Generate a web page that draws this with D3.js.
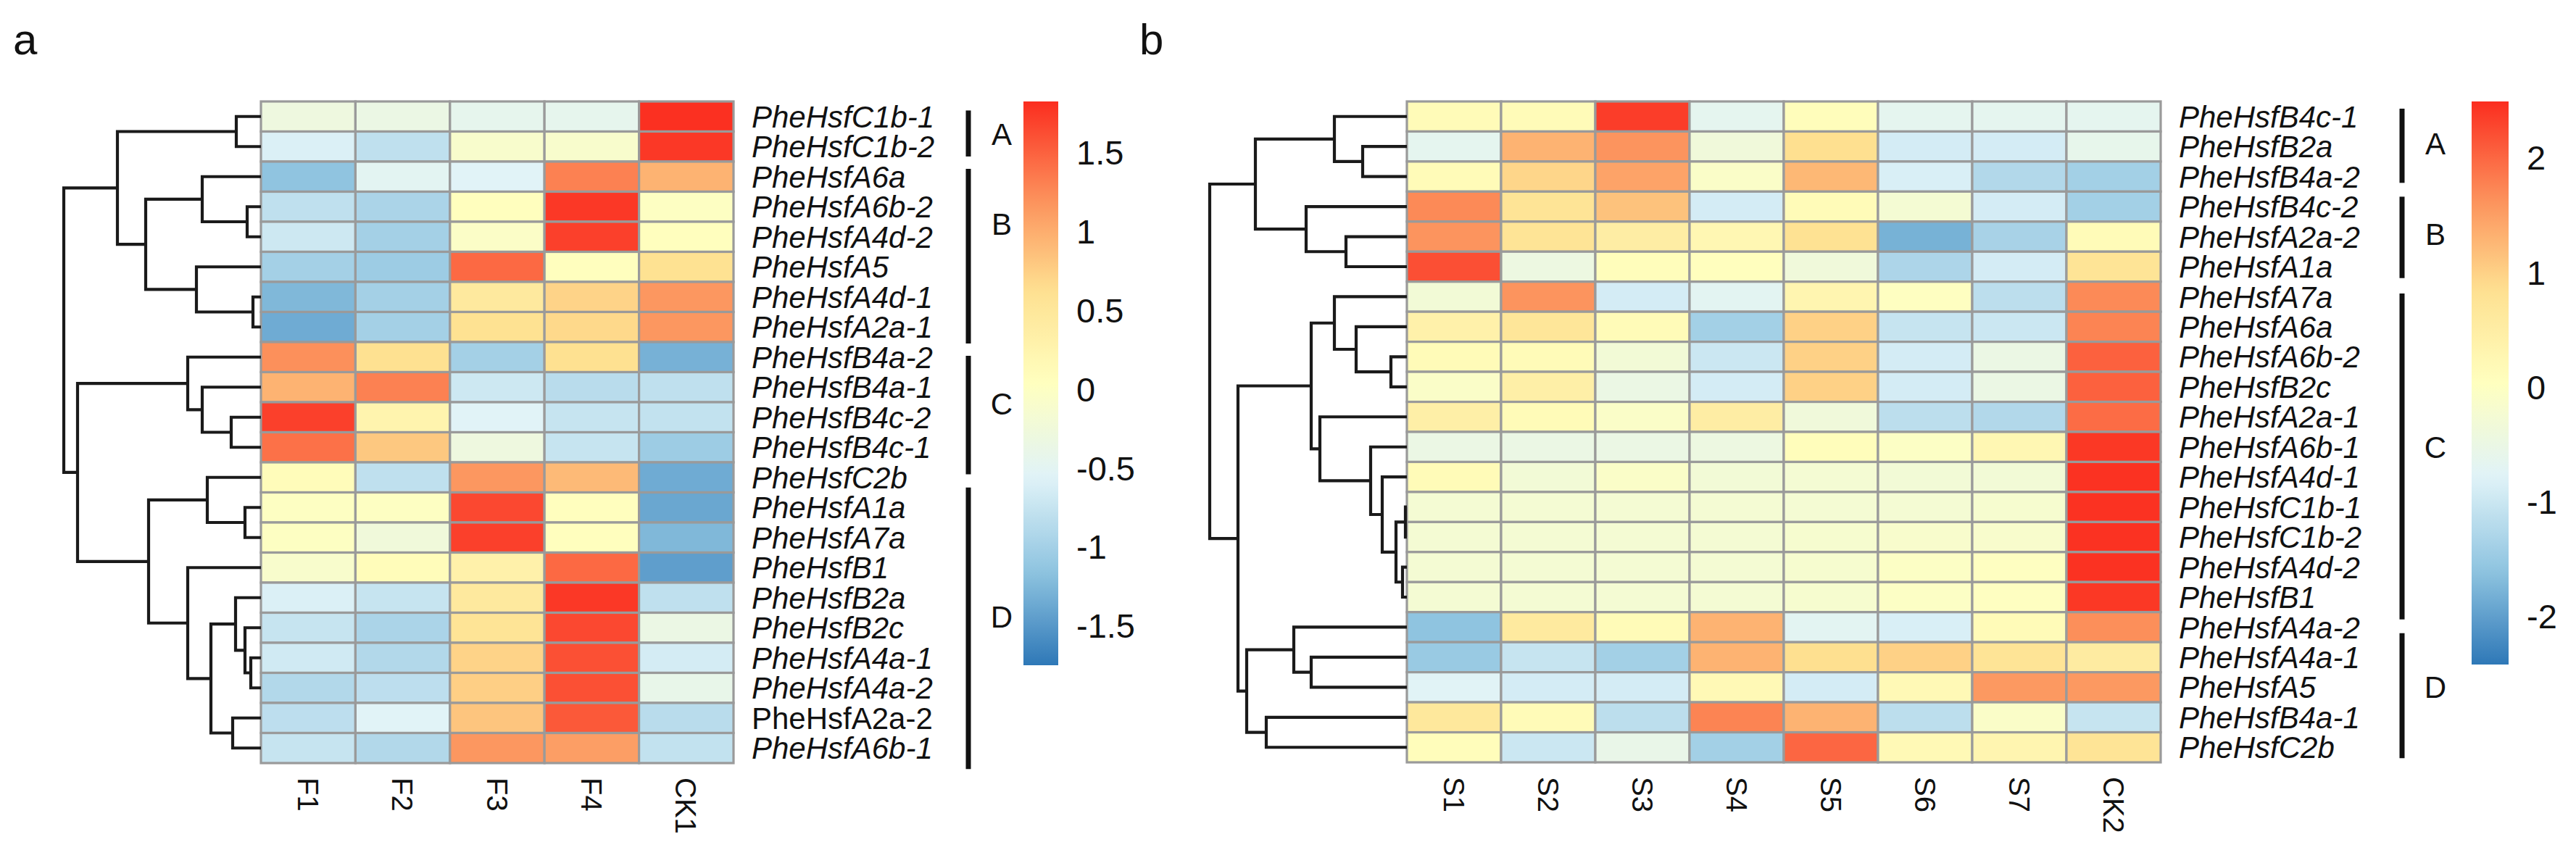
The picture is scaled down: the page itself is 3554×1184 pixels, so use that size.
<!DOCTYPE html>
<html>
<head>
<meta charset="utf-8">
<script src="https://cdn.jsdelivr.net/npm/d3@7/dist/d3.min.js"></script>
<style>
  html, body { margin: 0; background: #fff; }
  svg { display: block; font-family: "Liberation Sans", Arial, sans-serif; }
  .row-label { font-size: 42px; font-style: italic; fill: #111; }
  .row-label.plain { font-style: normal; }
  .col-label { font-size: 40px; fill: #111; }
  .tick-label { font-size: 47px; fill: #111; }
  .group-label { font-size: 42px; fill: #111; }
  .panel-label { font-size: 60px; fill: #111; }
  .dendro { fill: none; stroke: #1a1a1a; stroke-width: 4.2; }
  .cell { stroke: #9a9a9a; stroke-width: 3.2; }
</style>
</head>
<body>
<svg id="chart" width="3554" height="1184"></svg>
<script>
// ---- panel a data ----
const rowsA = ["PheHsfC1b-1", "PheHsfC1b-2", "PheHsfA6a", "PheHsfA6b-2", "PheHsfA4d-2", "PheHsfA5",
    "PheHsfA4d-1", "PheHsfA2a-1", "PheHsfB4a-2", "PheHsfB4a-1", "PheHsfB4c-2", "PheHsfB4c-1",
    "PheHsfC2b", "PheHsfA1a", "PheHsfA7a", "PheHsfB1", "PheHsfB2a", "PheHsfB2c",
    "PheHsfA4a-1", "PheHsfA4a-2", "PheHsfA2a-2", "PheHsfA6b-1"];
const colsA = ["F1", "F2", "F3", "F4", "CK1"];
const valuesA = [
    [-0.30, -0.35, -0.45, -0.45, 1.80],
    [-0.60, -0.80, -0.10, -0.10, 1.75],
    [-1.15, -0.50, -0.55, 1.30, 0.95],
    [-0.80, -0.95, 0.05, 1.75, 0.00],
    [-0.70, -1.00, -0.05, 1.70, 0.05],
    [-1.00, -1.05, 1.45, 0.05, 0.60],
    [-1.25, -1.00, 0.45, 0.72, 1.15],
    [-1.35, -1.00, 0.60, 0.68, 1.15],
    [1.20, 0.62, -1.00, 0.62, -1.30],
    [0.95, 1.30, -0.70, -0.85, -0.80],
    [1.70, 0.25, -0.55, -0.75, -0.78],
    [1.40, 0.80, -0.30, -0.75, -1.05],
    [0.10, -0.80, 1.15, 0.90, -1.35],
    [0.00, 0.00, 1.65, 0.05, -1.38],
    [0.00, -0.25, 1.70, 0.05, -1.25],
    [-0.10, 0.10, 0.30, 1.45, -1.45],
    [-0.60, -0.75, 0.45, 1.75, -0.80],
    [-0.75, -0.95, 0.55, 1.65, -0.35],
    [-0.68, -0.90, 0.72, 1.60, -0.65],
    [-0.90, -0.82, 0.75, 1.60, -0.40],
    [-0.82, -0.55, 0.82, 1.55, -0.85],
    [-0.75, -0.90, 1.15, 1.10, -0.78],
];
const plainRowsA = ["PheHsfA2a-2"];
// hclust-style merges: negative = leaf row (1-based), positive = earlier merge; third = height
const mergeA = [
    [-1, -2, 34], [-4, -5, 19], [-3, 2, 81], [-7, -8, 11], [-6, 4, 89], [3, 5, 159],
    [1, 6, 198], [-11, -12, 41], [-10, 8, 81], [-9, 9, 101], [-14, -15, 22], [-13, 11, 74],
    [-19, -20, 14], [-18, 13, 22], [-17, 14, 35], [-21, -22, 39], [15, 16, 69], [-16, 17, 101],
    [12, 18, 155], [10, 19, 253], [7, 20, 272],
];
// name, bracket start row, bracket end row, letter row
const groupsA = [["A", 0.3, 1.83, 1.08], ["B", 2.24, 8.05, 4.07], ["C", 8.46, 12.4, 10.05], ["D", 12.84, 22.2, 17.13]];
const rangeA = [-1.75, 1.82];
const ticksA = [-1.5, -1, -0.5, 0, 0.5, 1, 1.5];

// ---- panel b data ----
const rowsB = ["PheHsfB4c-1", "PheHsfB2a", "PheHsfB4a-2", "PheHsfB4c-2", "PheHsfA2a-2", "PheHsfA1a",
    "PheHsfA7a", "PheHsfA6a", "PheHsfA6b-2", "PheHsfB2c", "PheHsfA2a-1", "PheHsfA6b-1",
    "PheHsfA4d-1", "PheHsfC1b-1", "PheHsfC1b-2", "PheHsfA4d-2", "PheHsfB1", "PheHsfA4a-2",
    "PheHsfA4a-1", "PheHsfA5", "PheHsfB4a-1", "PheHsfC2b"];
const colsB = ["S1", "S2", "S3", "S4", "S5", "S6", "S7", "CK2"];
const valuesB = [
    [0.15, 0.15, 2.35, -0.65, 0.10, -0.65, -0.65, -0.65],
    [-0.65, 1.30, 1.60, -0.35, 0.85, -0.90, -0.90, -0.60],
    [0.15, 0.95, 1.45, -0.10, 1.25, -0.85, -1.25, -1.40],
    [1.70, 0.75, 1.15, -0.90, 0.15, -0.25, -0.90, -1.40],
    [1.60, 0.75, 0.50, 0.25, 0.80, -1.80, -1.35, 0.15],
    [2.20, -0.45, 0.10, 0.05, -0.35, -1.30, -0.90, 0.75],
    [-0.30, 1.60, -0.90, -0.70, 0.30, 0.00, -1.15, 1.70],
    [0.40, 0.70, 0.15, -1.40, 1.00, -1.05, -1.00, 1.75],
    [0.15, 0.15, -0.30, -1.00, 1.00, -0.90, -0.50, 2.05],
    [-0.10, 0.45, -0.50, -0.90, 1.00, -0.90, -0.50, 2.05],
    [0.45, 0.15, -0.10, 0.50, -0.35, -1.15, -1.25, 1.95],
    [-0.50, -0.50, -0.50, -0.45, 0.10, -0.05, 0.25, 2.40],
    [0.15, -0.30, -0.10, -0.30, -0.25, -0.30, -0.30, 2.45],
    [-0.25, -0.25, -0.25, -0.25, -0.25, -0.25, -0.20, 2.45],
    [-0.25, -0.25, -0.25, -0.25, -0.20, -0.15, -0.15, 2.45],
    [-0.25, -0.25, -0.25, -0.25, -0.20, -0.05, 0.00, 2.45],
    [-0.25, -0.25, -0.25, -0.25, -0.20, -0.05, 0.00, 2.40],
    [-1.60, 0.60, 0.15, 1.30, -0.70, -0.85, 0.15, 1.65],
    [-1.50, -1.05, -1.40, 1.30, 0.85, 1.00, 0.75, 0.55],
    [-0.75, -0.90, -0.90, 0.20, -0.90, 0.20, 1.55, 1.55],
    [0.65, 0.15, -1.15, 1.75, 1.30, -1.15, -0.10, -1.05],
    [0.10, -1.00, -0.55, -1.40, 2.00, 0.20, 0.30, 0.75],
];
const mergeB = [
    [-2, -3, 61], [-1, 1, 100], [-5, -6, 84], [-4, 3, 139], [2, 4, 209], [-9, -10, 22],
    [-8, 6, 70], [-7, 7, 100], [-14, -15, 2], [-16, -17, 6], [9, 10, 15], [-13, 11, 34],
    [-12, 12, 50], [-11, 13, 120], [8, 14, 132], [-19, -20, 132], [-18, 16, 156], [-21, -22, 194],
    [17, 18, 221], [15, 19, 233], [5, 20, 272],
];
const groupsB = [["A", 0.24, 2.71, 1.4], ["B", 3.17, 5.88, 4.4], ["C", 6.39, 17.24, 11.5], ["D", 17.7, 21.86, 19.5]];
const rangeB = [-2.42, 2.49];
const ticksB = [-2, -1, 0, 1, 2];

const PALETTE = ["#2e78b7", "#8fc4e0", "#e0f3f8", "#ffffbf", "#fee090", "#fc8d59", "#fb2d1f"];

const svg = d3.select("#chart");

function colorFor(range) {
    const [lo, hi] = range;
    return d3.scaleLinear()
        .domain(PALETTE.map((_, i) => lo + i * (hi - lo) / (PALETTE.length - 1)))
        .range(PALETTE)
        .clamp(true);
}

function drawPanel(cfg) {
    const g = svg.append("g").attr("class", "panel");
    const color = colorFor(cfg.range);

    const x = d3.scaleBand().domain(cfg.cols).range([cfg.left, cfg.right]);
    const y = d3.scaleBand().domain(cfg.rows).range([cfg.top, cfg.bottom]);
    const rowY = (i) => y(cfg.rows[i]) + y.bandwidth() / 2;
    // fractional row position -> pixel
    const rowPos = d3.scaleLinear().domain([0, cfg.rows.length]).range([cfg.top, cfg.bottom]);

    // cells
    cfg.values.forEach((row, ri) => {
        g.selectAll(null)
            .data(row)
            .enter()
            .append("rect")
            .attr("class", "cell")
            .attr("x", (d, ci) => x(cfg.cols[ci]))
            .attr("y", y(cfg.rows[ri]))
            .attr("width", x.bandwidth())
            .attr("height", y.bandwidth())
            .attr("fill", (d) => color(d));
    });

    // dendrogram
    const hx = d3.scaleLinear().domain([0, d3.max(cfg.merge, (m) => m[2])]).range([cfg.left, cfg.dendroLeft]);
    const nodes = [];
    const pos = (ref) => (ref < 0 ? { x: hx(0), y: rowY(-ref - 1) } : nodes[ref]);
    const paths = cfg.merge.map(([l, r, h], i) => {
        const a = pos(l), b = pos(r), mx = hx(h);
        nodes[i + 1] = { x: mx, y: (a.y + b.y) / 2 };
        return `M${a.x},${a.y}H${mx}V${b.y}H${b.x}`;
    });
    g.selectAll(".dendro")
        .data(paths)
        .enter()
        .append("path")
        .attr("class", "dendro")
        .attr("d", (d) => d);

    // row labels
    g.selectAll(".row-label")
        .data(cfg.rows)
        .enter()
        .append("text")
        .attr("class", (d) => "row-label" + ((cfg.plain || []).includes(d) ? " plain" : ""))
        .attr("x", cfg.right + 25)
        .attr("y", (d) => y(d) + y.bandwidth() / 2)
        .attr("dy", "0.36em")
        .text((d) => d);

    // column labels, rotated
    g.selectAll(".col-label")
        .data(cfg.cols)
        .enter()
        .append("text")
        .attr("class", "col-label")
        .attr("transform", (d) => `translate(${x(d) + x.bandwidth() / 2},${cfg.bottom + 20}) rotate(90)`)
        .attr("dy", "0.36em")
        .text((d) => d);

    // group brackets
    g.selectAll(".bracket")
        .data(cfg.groups)
        .enter()
        .append("line")
        .attr("class", "bracket")
        .attr("x1", cfg.bracketX).attr("x2", cfg.bracketX)
        .attr("y1", (d) => rowPos(d[1]))
        .attr("y2", (d) => rowPos(d[2]))
        .attr("stroke", "#111")
        .attr("stroke-width", 7);
    g.selectAll(".group-label")
        .data(cfg.groups)
        .enter()
        .append("text")
        .attr("class", "group-label")
        .attr("x", cfg.bracketX + 46)
        .attr("y", (d) => rowPos(d[3]))
        .attr("dy", "0.36em")
        .attr("text-anchor", "middle")
        .text((d) => d[0]);

    // colour bar
    const lg = d3.scaleLinear().domain(cfg.range).range([cfg.top + cfg.barHeight, cfg.top]);
    const gradId = "grad-" + cfg.name;
    const grad = svg.append("defs").append("linearGradient")
        .attr("id", gradId)
        .attr("x1", 0).attr("y1", 1).attr("x2", 0).attr("y2", 0);
    grad.selectAll("stop")
        .data(d3.range(0, 1.0001, 0.02))
        .enter()
        .append("stop")
        .attr("offset", (t) => t)
        .attr("stop-color", (t) => color(cfg.range[0] + t * (cfg.range[1] - cfg.range[0])));
    g.append("rect")
        .attr("x", cfg.barX)
        .attr("y", cfg.top)
        .attr("width", cfg.barWidth)
        .attr("height", cfg.barHeight)
        .attr("fill", `url(#${gradId})`);
    g.selectAll(".tick-label")
        .data(cfg.ticks)
        .enter()
        .append("text")
        .attr("class", "tick-label")
        .attr("x", cfg.barX + cfg.barWidth + 25)
        .attr("y", (d) => lg(d))
        .attr("dy", "0.36em")
        .text((d) => d);

    // panel letter
    g.append("text")
        .attr("class", "panel-label")
        .attr("x", cfg.labelX)
        .attr("y", 75)
        .text(cfg.name);
}

drawPanel({
    name: "a", rows: rowsA, cols: colsA, values: valuesA, merge: mergeA, groups: groupsA,
    range: rangeA, ticks: ticksA, plain: plainRowsA,
    left: 360, right: 1012, top: 140, bottom: 1053, dendroLeft: 88,
    bracketX: 1336, barX: 1412, barWidth: 48, barHeight: 778, labelX: 18,
});

drawPanel({
    name: "b", rows: rowsB, cols: colsB, values: valuesB, merge: mergeB, groups: groupsB,
    range: rangeB, ticks: ticksB,
    left: 1941, right: 2981, top: 140, bottom: 1052, dendroLeft: 1669,
    bracketX: 3314, barX: 3410, barWidth: 51, barHeight: 777, labelX: 1572,
});
</script>
</body>
</html>
